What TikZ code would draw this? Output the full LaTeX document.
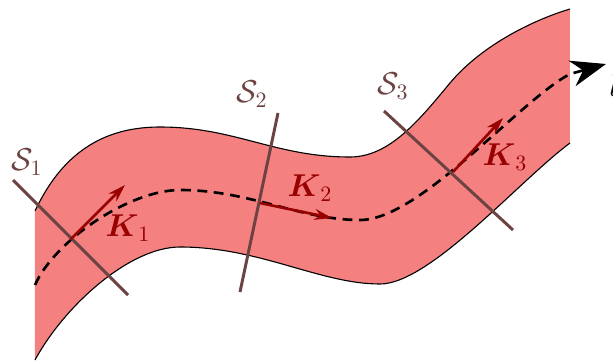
\documentclass[tikz,border=0pt]{standalone}
\usepackage{amsmath, amssymb}
\usepackage{tikz}
\usetikzlibrary{arrows.meta}
\definecolor{bandred}{RGB}{244,128,128}
\definecolor{secbrown}{RGB}{108,66,66}
\definecolor{kred}{RGB}{153,0,0}
\begin{document}
\begin{tikzpicture}[x=0.016cm, y=-0.016cm,
  sec/.style={draw=secbrown, line width=1.35pt},
  vec/.style={-{Stealth[length=8pt, width=5pt]}, draw=kred, line width=1.2pt},
  lab/.style={font=\Large, inner sep=0pt}]
  \useasboundingbox (0,0) rectangle (613,363);
  % the band
  \coordinate (ul) at (35,211);  \coordinate (ur) at (570,9);
  \coordinate (ll) at (35,360);  \coordinate (lr) at (570,143);
  \fill[bandred] (ul) .. controls (65,147) and (110,127) .. (160,127)
    .. controls (235,127) and (275,157) .. (350,157)
    .. controls (390,157) and (420,119) .. (450,83)
    .. controls (480,47) and (530,21) .. (ur)
    -- (lr) .. controls (520,180) and (430,284) .. (380,284)
    .. controls (320,284) and (260,247) .. (180,247)
    .. controls (130,247) and (65,305) .. (ll) -- cycle;
  \draw[line width=0.5pt] (ul) .. controls (65,147) and (110,127) .. (160,127)
    .. controls (235,127) and (275,157) .. (350,157)
    .. controls (390,157) and (420,119) .. (450,83)
    .. controls (480,47) and (530,21) .. (ur);
  \draw[line width=0.5pt] (lr) .. controls (520,180) and (430,284) .. (380,284)
    .. controls (320,284) and (260,247) .. (180,247)
    .. controls (130,247) and (65,305) .. (ll);
  % curve
  \coordinate (c0) at (35,285);
  \coordinate (tip) at (606,64);
  \draw[line width=1.2pt, dash pattern=on 4.5pt off 3pt,
        -{Stealth[length=16pt, width=12pt]}]
    (c0) .. controls (55,240) and (130,190) .. (180,190)
    .. controls (250,190) and (300,220) .. (360,220)
    .. controls (420,220) and (520,100) .. (570,74) -- (tip);
  \node[lab, anchor=base west] (l) at (609,96) {$l$};
  % sections
  \coordinate (s1a) at (13,180);  \coordinate (s1b) at (128,295);
  \coordinate (s2a) at (278,113); \coordinate (s2b) at (240,292);
  \coordinate (s3a) at (384,111); \coordinate (s3b) at (513,230);
  \draw[sec] (s1a) -- (s1b);
  \draw[sec] (s2a) -- (s2b);
  \draw[sec] (s3a) -- (s3b);
  \node[lab, text=secbrown] (S1) at (27,162) {$\mathcal{S}_1$};
  \node[lab, text=secbrown] (S2) at (252,94) {$\mathcal{S}_2$};
  \node[lab, text=secbrown] (S3) at (393,86) {$\mathcal{S}_3$};
  % vectors
  \coordinate (k1a) at (71,239);  \coordinate (k1b) at (125,185);
  \coordinate (k2a) at (260,203); \coordinate (k2b) at (332,218);
  \coordinate (k3a) at (453,172); \coordinate (k3b) at (503,118);
  \draw[vec] (k1a) -- (k1b);
  \draw[vec] (k2a) -- (k2b);
  \draw[vec] (k3a) -- (k3b);
  \node[lab, text=kred] (K1) at (128,228) {$\boldsymbol{K}_1$};
  \node[lab, text=kred] (K2) at (310,188) {$\boldsymbol{K}_2$};
  \node[lab, text=kred] (K3) at (505,157) {$\boldsymbol{K}_3$};
\end{tikzpicture}
\end{document}
